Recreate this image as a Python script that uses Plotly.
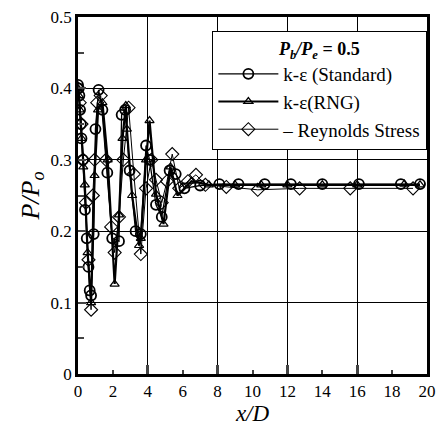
import plotly.graph_objects as go

# k-epsilon (Standard) model
std_x = [0, 0.04, 0.08, 0.12, 0.16, 0.2, 0.28, 0.4, 0.5, 0.6, 0.67, 0.75, 0.9, 1.0, 1.18,
         1.4, 1.68, 1.96, 2.35, 2.5, 2.7, 2.96, 3.3, 3.6, 3.9, 4.1, 4.47, 4.8, 5.25, 5.6,
         6.1, 7.0, 8.1, 9.2, 10.7, 12.2, 14.0, 16.1, 18.5, 19.6]
std_y = [0.405, 0.40, 0.39, 0.37, 0.35, 0.33, 0.30, 0.23, 0.19, 0.15, 0.117, 0.11, 0.196, 0.343, 0.398,
         0.37, 0.282, 0.19, 0.186, 0.363, 0.37, 0.285, 0.2, 0.196, 0.32, 0.3, 0.237, 0.22, 0.285, 0.28,
         0.26, 0.264, 0.266, 0.266, 0.266, 0.266, 0.266, 0.266, 0.266, 0.266]

# k-epsilon (RNG) model
rng_x = [0, 0.05, 0.1, 0.2, 0.3, 0.39, 0.55, 0.75, 0.95, 1.15, 1.4, 1.7, 2.1, 2.35, 2.55,
         2.74, 2.8, 3.1, 3.5, 3.6, 3.9, 4.1, 4.47, 4.9, 5.3, 5.7, 6.5, 7.5, 9.0, 10.5,
         12.0, 14.0, 16.0, 18.7, 19.6]
rng_y = [0.40, 0.39, 0.37, 0.33, 0.29, 0.265, 0.17, 0.10, 0.278, 0.37, 0.38, 0.30, 0.126, 0.223, 0.33,
         0.376, 0.343, 0.25, 0.18, 0.19, 0.30, 0.355, 0.252, 0.21, 0.29, 0.25, 0.27, 0.265, 0.265, 0.265,
         0.265, 0.265, 0.265, 0.266, 0.265]

# Reynolds Stress model
rsm_x = [0, 0.1, 0.2, 0.3, 0.45, 0.6, 0.75, 0.85, 0.95, 1.1, 1.3, 1.6, 1.9, 2.1, 2.35,
         2.6, 2.9, 3.2, 3.6, 3.9, 4.2, 4.47, 4.8, 5.1, 5.4, 5.8, 6.3, 6.76, 7.3, 8.5,
         10.3, 12.7, 15.6, 19.2]
rsm_y = [0.40, 0.38, 0.35, 0.30, 0.24, 0.16, 0.09, 0.25, 0.30, 0.38, 0.39, 0.30, 0.206, 0.17, 0.22,
         0.30, 0.373, 0.28, 0.168, 0.26, 0.30, 0.272, 0.24, 0.27, 0.308, 0.26, 0.27, 0.279, 0.265, 0.262,
         0.258, 0.26, 0.26, 0.26]

x_ticks = [0, 2, 4, 6, 8, 10, 12, 14, 16, 18, 20]
y_ticks = [0, 0.1, 0.2, 0.3, 0.4, 0.5]
y_tick_text = ["0", "0.1", "0.2", "0.3", "0.4", "0.5"]

SERIF = "Liberation Serif"

fig = go.Figure()
fig.add_trace(go.Scatter(
    x=std_x, y=std_y, mode="lines+markers", name="k-ε (Standard)",
    line=dict(color="black", width=1.3),
    marker=dict(symbol="circle-open", size=10, color="black", line=dict(width=1.8)),
))
fig.add_trace(go.Scatter(
    x=rng_x, y=rng_y, mode="lines+markers", name="k-ε(RNG)",
    line=dict(color="black", width=2.2),
    marker=dict(symbol="triangle-up-open", size=8, color="black", line=dict(width=1.2)),
))
fig.add_trace(go.Scatter(
    x=rsm_x, y=rsm_y, mode="lines+markers", name="– Reynolds Stress",
    line=dict(color="black", width=1),
    marker=dict(symbol="diamond-open", size=10, color="black", line=dict(width=1.1)),
))
# invisible trace carrying the every-4 grid axis
fig.add_trace(go.Scatter(x=[0, 20], y=[0, 0], xaxis="x2", mode="markers",
                         marker=dict(opacity=0), showlegend=False, hoverinfo="skip"))

fig.update_layout(
    width=444, height=431,
    margin=dict(l=78, r=8, t=14, b=57),
    paper_bgcolor="white", plot_bgcolor="white",
    font=dict(family=SERIF, color="black", size=16),
    xaxis=dict(
        range=[0, 20], tickvals=x_ticks, ticks="inside", ticklen=4, tickwidth=2,
        showgrid=False, zeroline=False, showline=True, linewidth=2.5, linecolor="black",
        mirror=True, tickfont=dict(family=SERIF, size=17),
        title=dict(text="<i>x/D</i>", font=dict(family=SERIF, size=23), standoff=0),
    ),
    xaxis2=dict(
        range=[0, 20], overlaying="x", side="bottom", dtick=4, tick0=0,
        ticks="inside", ticklen=9, tickwidth=2.5, showticklabels=False,
        showgrid=True, gridcolor="black", gridwidth=1, zeroline=False, showline=False,
    ),
    yaxis=dict(
        range=[0, 0.5], tickvals=y_ticks, ticktext=y_tick_text, ticks="inside", ticklen=8,
        tickwidth=2, showgrid=True, gridcolor="black", gridwidth=1, zeroline=False,
        showline=True, linewidth=2.5, linecolor="black", mirror=True,
        tickfont=dict(family=SERIF, size=17),
        minor=dict(dtick=0.05, ticks="inside", ticklen=6, tickwidth=2, showgrid=False),
        title=dict(text="<i>P/P<sub>o</sub></i>", font=dict(family=SERIF, size=26), standoff=4),
    ),
    legend=dict(
        x=0.385, y=0.962, xanchor="left", yanchor="top",
        bgcolor="white", bordercolor="black", borderwidth=1,
        font=dict(family=SERIF, size=19), tracegroupgap=0, itemwidth=60,
        title=dict(text="<b><i>P<sub>b</sub>/P<sub>e</sub></i> = 0.5</b>",
                   font=dict(family=SERIF, size=18), side="top center"),
    ),
    showlegend=True,
)

fig.write_html("out.html")
